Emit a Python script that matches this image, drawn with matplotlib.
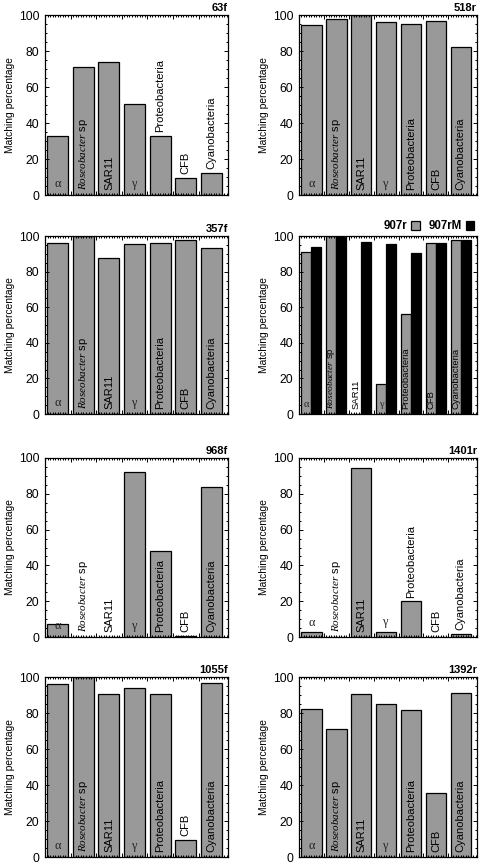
import matplotlib
matplotlib.use("Agg")
import matplotlib.pyplot as plt
from matplotlib.patches import Patch
from matplotlib.ticker import MultipleLocator, FixedLocator

plt.rcParams['font.family'] = ['Liberation Sans', 'DejaVu Sans']
plt.rcParams['mathtext.fontset'] = 'custom'
plt.rcParams['mathtext.it'] = 'Liberation Serif:italic'
plt.rcParams['mathtext.rm'] = 'Liberation Serif'

categories = ["α", "Roseobacter sp", "SAR11", "γ", "Proteobacteria", "CFB", "Cyanobacteria"]

v63f = [32.8, 71.1, 74.1, 50.7, 32.8, 9.6, 12.2]
v518r = [94.2, 97.6, 100, 96.1, 94.8, 96.5, 82.3]
v357f = [96.3, 100, 87.6, 95.5, 96.1, 97.8, 93.1]
v907r = [90.8, 100, 0, 16.8, 56.1, 96.3, 97.9]
v907rM = [94.0, 100, 96.8, 95.7, 90.7, 96.3, 97.8]
v968f = [7.5, 0, 0, 92.3, 48.2, 0.8, 83.6]
v1401r = [2.6, 0, 94.6, 2.8, 20.0, 0, 1.7]
v1055f = [96.3, 100, 90.3, 93.9, 90.5, 9.5, 96.8]
v1392r = [82.2, 71.3, 90.7, 84.8, 81.9, 35.7, 90.9]

GRAY = "#999999"

# approximate label length in data units (to decide inside/above)
need = {"α": 6, "γ": 6, "Roseobacter sp": 47, "SAR11": 21,
        "Proteobacteria": 45, "CFB": 15, "Cyanobacteria": 48}

fig = plt.figure(figsize=(4.8, 8.64), dpi=100)

lx, lw = 45 / 480, 183 / 480
rx, rw = 299 / 480, 178 / 480
rows = [(15, 195), (236, 414), (458, 637), (677, 857)]


def make_ax(col, row):
    top, bot = rows[row]
    x, w = (lx, lw) if col == 0 else (rx, rw)
    ax = fig.add_axes([x, 1 - bot / 864, w, (bot - top) / 864])
    ax.set_xlim(-0.5, 6.65)
    ax.set_ylim(0, 100)
    ax.yaxis.set_major_locator(MultipleLocator(20))
    ax.yaxis.set_minor_locator(MultipleLocator(5))
    ax.xaxis.set_major_locator(FixedLocator([i + 0.5 for i in range(6)]))
    ax.xaxis.set_minor_locator(MultipleLocator(0.1))
    ax.tick_params(axis='both', which='both', direction='in', top=True, right=True,
                   labelsize=8.8, width=0.7, pad=4)
    ax.tick_params(axis='both', which='major', length=3)
    ax.tick_params(axis='both', which='minor', length=1.4)
    ax.tick_params(axis='x', labelbottom=False)
    for s in ax.spines.values():
        s.set_linewidth(0.9)
    ax.set_ylabel("Matching percentage", fontsize=7.4, labelpad=3)
    return ax


def label_text(ax, x, h, lab, fs):
    y = 3 if h >= need[lab] else max(h + 2, 3)
    if lab in ("α", "γ"):
        ax.text(x, y, lab, ha='center', va='bottom', fontsize=fs * 1.1,
                family='Liberation Serif', color='#222222')
    elif lab == "Roseobacter sp":
        ax.text(x, y, r"$\mathit{Roseobacter}$ sp", rotation=90, ha='center',
                va='bottom', fontsize=fs)
    else:
        ax.text(x, y, lab, rotation=90, ha='center', va='bottom', fontsize=fs)


def single(col, row, title, vals):
    ax = make_ax(col, row)
    xs = list(range(len(categories)))
    ax.bar(xs, vals, width=0.82, color=GRAY, edgecolor='black', linewidth=0.9)
    for x, h, lab in zip(xs, vals, categories):
        label_text(ax, x, h, lab, 8.0)
    ax.set_title(title, loc='right', fontsize=8.0, fontweight='bold', pad=3)
    return ax


single(0, 0, "63f", v63f)
single(1, 0, "518r", v518r)
single(0, 1, "357f", v357f)
single(0, 2, "968f", v968f)
single(1, 2, "1401r", v1401r)
single(0, 3, "1055f", v1055f)
single(1, 3, "1392r", v1392r)

ax = make_ax(1, 1)
xs = list(range(len(categories)))
ax.bar([x - 0.2 for x in xs], v907r, width=0.4, color=GRAY, edgecolor='black', linewidth=0.9)
ax.bar([x + 0.2 for x in xs], v907rM, width=0.4, color='black', edgecolor='black', linewidth=0.9)
for x, h, lab in zip(xs, v907r, categories):
    label_text(ax, x - 0.2, h, lab, 6.8)
handles = [Patch(facecolor=GRAY, edgecolor='black', linewidth=0.9, label="907r"),
           Patch(facecolor='black', edgecolor='black', linewidth=0.9, label="907rM")]
ax.legend(handles=handles, loc='lower right', bbox_to_anchor=(0.985, 1.02), ncol=2,
          frameon=False, markerfirst=False, handlelength=0.75, handleheight=0.75,
          handletextpad=0.3, columnspacing=0.8, borderpad=0, borderaxespad=0,
          prop={'weight': 'bold', 'size': 8.3})

fig.savefig("out.png", dpi=100)
